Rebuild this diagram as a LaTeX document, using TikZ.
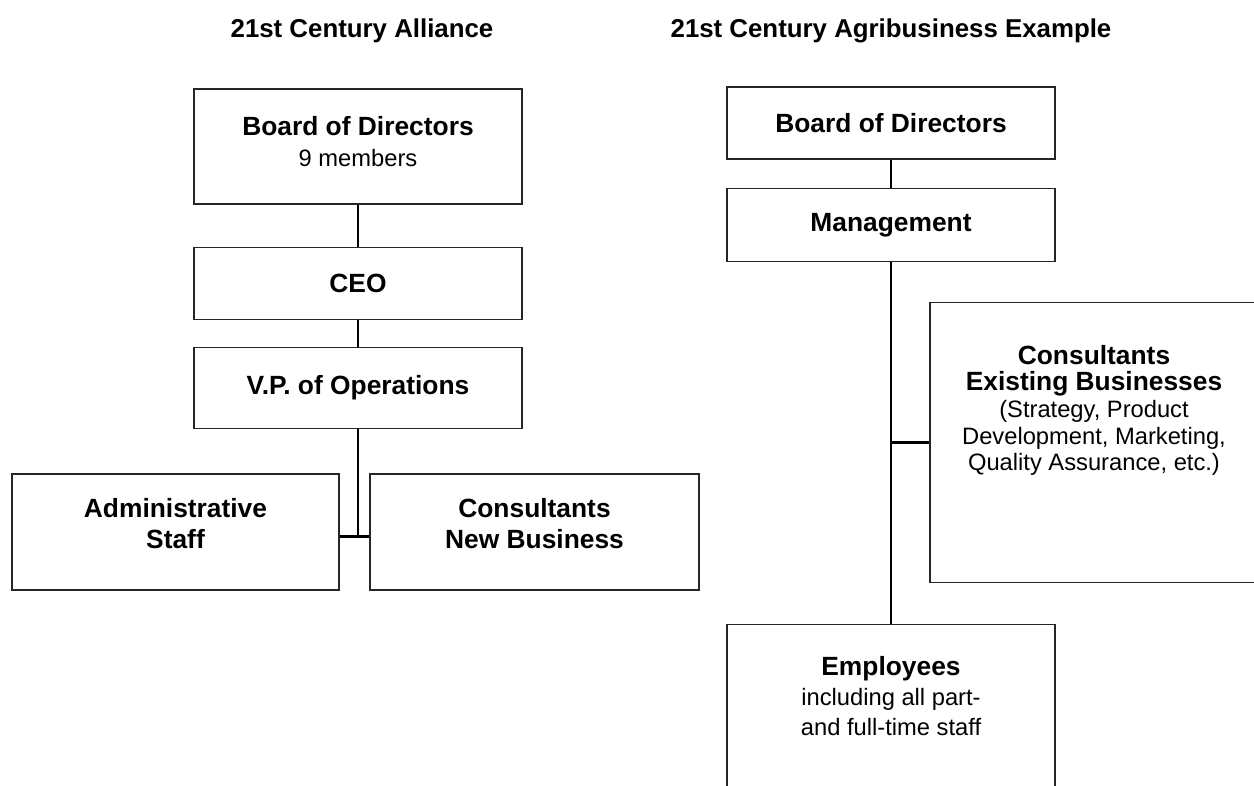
\documentclass[tikz,border=0pt]{standalone}
\usepackage{fontspec}
\setmainfont{Liberation Sans}
\usetikzlibrary{positioning}
\tikzstyle{unit} = [rectangle, draw=black!85, line width=0.75pt, align=center,
inner sep=0pt, minimum width=6.56cm, font=\fontsize{15}{17.6}\selectfont\bfseries]
\tikzstyle{pair} = [text depth=10pt]
\tikzstyle{info} = [align=center, inner sep=0pt, font=\fontsize{15}{15.1}\selectfont\bfseries]
\tikzstyle{title} = [anchor=base, font=\fontsize{14.7}{17}\selectfont\bfseries]
\tikzstyle{wire} = [line width=1.6pt]
\newcommand{\note}[1]{{\fontsize{13.5}{15}\selectfont\mdseries #1}}
\newcommand{\connect}[2]{ %
  % Join every node of #1 to every node of #2.
  \foreach \x in {#1} { %
    \foreach \y in {#2} { %
      \draw[wire] (\x) -- (\y) ;%
    } ;
  } ;
}

\begin{document}
\begin{tikzpicture}
  \useasboundingbox (0,0) rectangle (25.08,-15.7);
  \clip (0,0) rectangle (25.08,-15.7);

  % alliance
  \node[title] (titleA) at (7.24,-0.74) {21st Century Alliance};
  \node[unit, text depth=6pt, minimum height=2.3cm] (boardA) at (7.16,-2.93)
    {Board of Directors\\\note{9 members}};
  \node[unit, minimum height=1.44cm, below=0.84cm of boardA] (ceo) {CEO};
  \node[unit, minimum height=1.62cm, below=0.54cm of ceo] (vp) {V.P. of Operations};
  \node[unit, pair, minimum width=6.54cm, minimum height=2.32cm,
    below=0.88cm of vp, xshift=-3.65cm] (admin) {Administrative\\Staff};
  \node[unit, pair, minimum width=6.58cm, minimum height=2.32cm,
    below=0.88cm of vp, xshift=3.53cm] (cnb) {Consultants\\New Business};
  \coordinate[below=2.14cm of vp.south] (fork);

  \connect {boardA} {ceo};
  \connect {ceo} {vp};
  \connect {vp} {fork};
  \draw[wire] (admin.east |- fork) -- (cnb.west |- fork);

  % agribusiness
  \node[title] (titleB) at (17.82,-0.74) {21st Century Agribusiness Example};
  \node[unit, minimum height=1.44cm] (boardB) at (17.82,-2.46) {Board of Directors};
  \node[unit, minimum height=1.46cm, below=0.56cm of boardB] (mgmt) {Management};
  \node[unit, minimum height=5.6cm, below=0.8cm of mgmt, xshift=4.06cm] (ceb) {};
  \node[info, below=0.86cm of ceb.north] (cebtext)
    {Consultants\\Existing Businesses\\\note{(Strategy, Product}\\
     \note{Development, Marketing,}\\\note{Quality Assurance, etc.)}};
  \node[unit, minimum height=3.6cm, below=7.24cm of mgmt] (emp) {};
  \node[info, below=0.64cm of emp.north, font=\fontsize{15}{17}\selectfont\bfseries] (emptext)
    {Employees\\\note{including all part-}\\\note{and full-time staff}};

  \connect {boardB} {mgmt};
  \connect {mgmt} {emp};
  \draw[wire] (mgmt.south |- ceb.west) -- (ceb.west);
\end{tikzpicture}
\end{document}
